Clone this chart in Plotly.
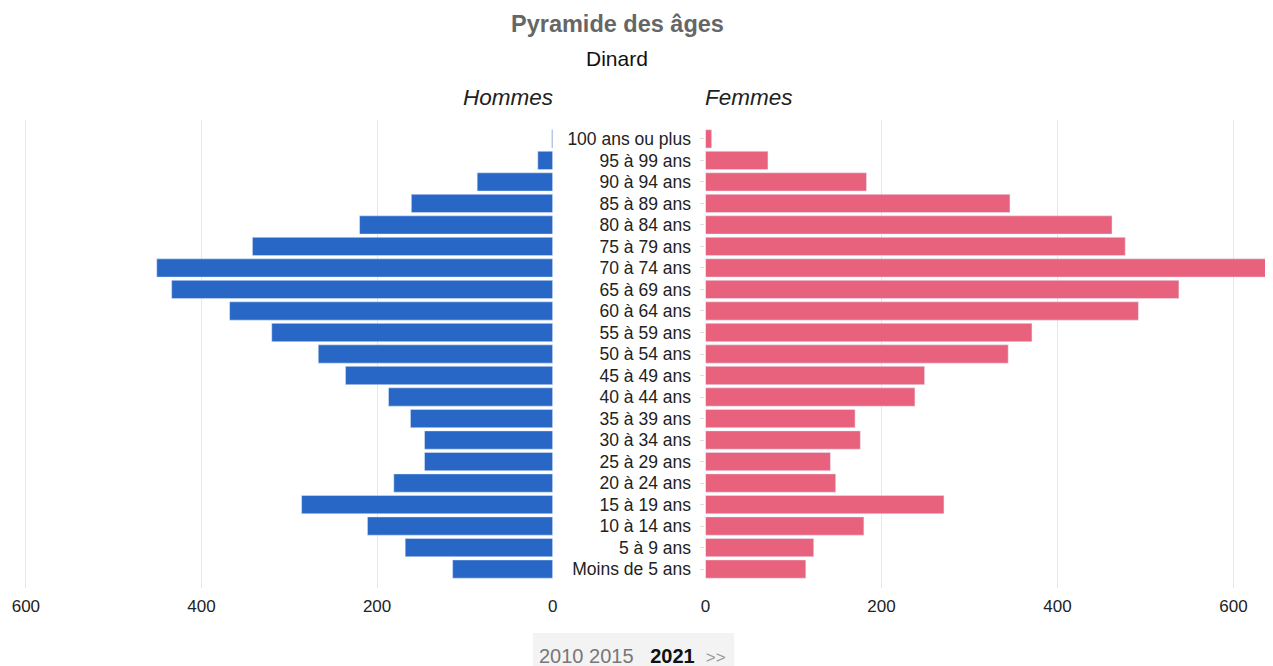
import plotly.graph_objects as go

# Age groups, from youngest (bottom) to oldest (top)
tranches = ["Moins de 5 ans", "5 à 9 ans", "10 à 14 ans", "15 à 19 ans", "20 à 24 ans",
            "25 à 29 ans", "30 à 34 ans", "35 à 39 ans", "40 à 44 ans", "45 à 49 ans",
            "50 à 54 ans", "55 à 59 ans", "60 à 64 ans", "65 à 69 ans", "70 à 74 ans",
            "75 à 79 ans", "80 à 84 ans", "85 à 89 ans", "90 à 94 ans", "95 à 99 ans",
            "100 ans ou plus"]
hommes = [114, 168, 211, 286, 181, 146, 146, 162, 187, 236,
          267, 320, 368, 434, 451, 342, 220, 161, 86, 17, 1]
femmes = [114, 123, 180, 271, 148, 142, 176, 170, 238, 249,
          344, 371, 492, 538, 642, 477, 462, 346, 183, 71, 7]
ticks = [0, 200, 400, 600]
annees = ["2010", "2015", "2021"]

# page has an 8px body margin, so the figure is drawn 8px in from the window corner
OX, OY = 8, 8
FW, FH = 1273 - OX, 666 - OY
T, B = 112, 78
BLUE = "#2867C6"
PINK = "#E8617D"
GRID = "#e6e6e6"
FONT = "Arial, Liberation Sans, sans-serif"


def px(x):
    return (x - OX) / FW


def py(y):
    return (FH - B - (y - OY)) / (FH - T - B)


fig = go.Figure()
fig.add_trace(go.Bar(y=tranches, x=hommes, orientation="h", marker_color=BLUE,
                     xaxis="x", yaxis="y", name="Hommes"))
fig.add_trace(go.Bar(y=tranches, x=femmes, orientation="h", marker_color=PINK,
                     xaxis="x2", yaxis="y2", name="Femmes"))

yrange = [-0.88, len(tranches) - 1 + 0.88]
xcommon = dict(tickvals=ticks, showgrid=True, gridcolor=GRID, gridwidth=1,
               zeroline=False, showline=False, ticks="", ticklabelstandoff=6,
               tickfont=dict(size=17, color="#222", family=FONT), fixedrange=True)

fig.update_layout(
    width=FW, height=FH,
    margin=dict(l=0, r=0, t=T, b=B),
    paper_bgcolor="white", plot_bgcolor="white",
    showlegend=False, bargap=0.15,
    font=dict(family=FONT),
    xaxis=dict(domain=[0, px(552)], range=[(552 - OX) / 0.885, 0], **xcommon),
    xaxis2=dict(domain=[px(706), 1], range=[0, (1273 - 706) / 0.887], **xcommon),
    yaxis=dict(anchor="x", range=yrange, showticklabels=False, showgrid=False,
               zeroline=False, type="category"),
    yaxis2=dict(anchor="x2", range=yrange, side="left", type="category",
                showgrid=False, zeroline=False, ticks="outside", ticklen=4,
                tickcolor="#dddddd", ticklabelstandoff=6,
                tickfont=dict(size=17.5, color="#222", family=FONT)),
)


def label(text, x, y, size, color, xanchor="center"):
    fig.add_annotation(text=text, x=px(x), y=py(y), xanchor=xanchor, yanchor="middle",
                       xref="paper", yref="paper", showarrow=False,
                       font=dict(size=size, color=color, family=FONT))


# titles
label("<b>Pyramide des âges</b>", 617, 24, 23.5, "#666")
label("Dinard", 617, 58, 21, "#111")
label("<i>Hommes</i>", 554, 98, 22.5, "#222", "right")
label("<i>Femmes</i>", 704, 98, 22.5, "#222", "left")

# year selector
fig.add_shape(type="rect", xref="paper", yref="paper",
              x0=px(532), x1=px(735), y0=py(672), y1=py(633),
              fillcolor="#f3f3f3", line=dict(width=0), layer="below")
selector = (annees[0] + " " + annees[1] + "&nbsp;&nbsp;&nbsp;<span style='color:#111'><b>" +
            annees[2] + "</b></span>&nbsp;&nbsp;<span style='font-size:17px;color:#999'>&gt;&gt;</span>")
label(selector, 632, 656, 20, "#777")

fig.write_html("out.html")
